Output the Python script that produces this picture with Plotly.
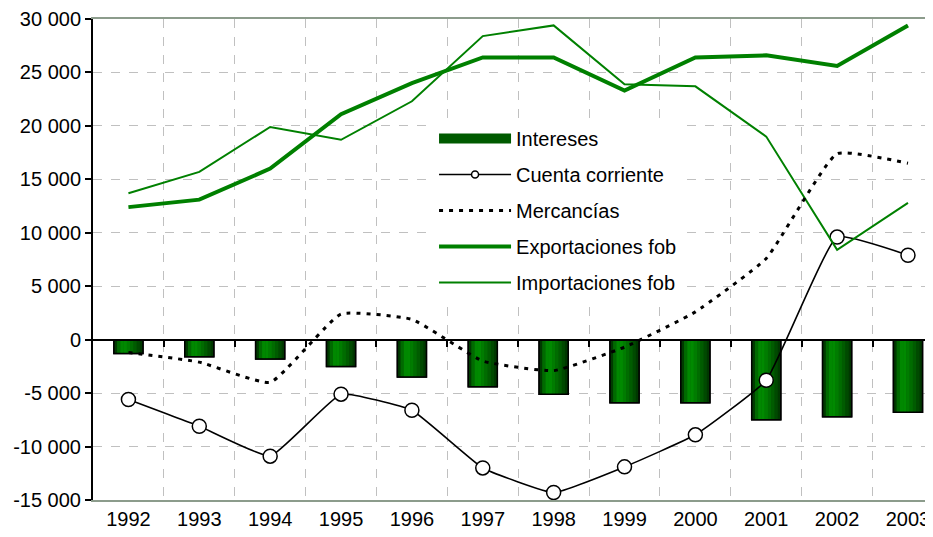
import plotly.graph_objects as go

# values (millions)
years = [1992, 1993, 1994, 1995, 1996, 1997, 1998, 1999, 2000, 2001, 2002, 2003]
intereses = [-1300, -1600, -1800, -2500, -3500, -4400, -5100, -5900, -5900, -7500, -7200, -6800]
cuenta = [-5600, -8100, -10900, -5100, -6600, -12000, -14300, -11900, -8900, -3800, 9600, 7900]
mercancias = [-1200, -2100, -4000, 2400, 1900, -2000, -2900, -700, 2600, 7600, 17400, 16500]
exportaciones = [12400, 13100, 16000, 21100, 24000, 26400, 26400, 23300, 26400, 26600, 25600, 29400]
importaciones = [13700, 15700, 19900, 18700, 22300, 28400, 29400, 23900, 23700, 19000, 8400, 12800]

y_ticks = [-15000, -10000, -5000, 0, 5000, 10000, 15000, 20000, 25000, 30000]
y_labels = ["-15 000", "-10 000", "-5 000", "0", "5 000", "10 000", "15 000", "20 000", "25 000", "30 000"]

font = "Liberation Sans, Arial, sans-serif"
green = "#008000"
bar_w = 0.41
x_range = [1991.5, 2003.353]
bounds = [y + 0.5 for y in years[:-1]]

fig = go.Figure()

# legend-only entry for the bars, styled like the original swatch
fig.add_trace(go.Scatter(x=[None], y=[None], name="Intereses", mode="lines",
                         line=dict(color="#005a00", width=10), legendgroup="a"))

# bars: base, then vertical stripes to fake the gradient, then outline
fig.add_trace(go.Bar(x=years, y=intereses, width=bar_w, name="Intereses",
                     marker=dict(color="#006400", line=dict(color="black", width=1.5)),
                     showlegend=False))
stripe_cols = ["#003a00", "#006a00", "#008800", "#008a00", "#007c00",
               "#006c00", "#005c00", "#004a00", "#003800"]
n = len(stripe_cols)
sw = bar_w / n
for i, c in enumerate(stripe_cols):
    fig.add_trace(go.Bar(x=years, y=intereses, width=sw + 0.002, offset=-bar_w / 2 + i * sw,
                         marker=dict(color=c, line=dict(width=0)),
                         showlegend=False, hoverinfo="skip"))
fig.add_trace(go.Bar(x=years, y=intereses, width=bar_w,
                     marker=dict(color="rgba(0,0,0,0)", line=dict(color="black", width=1.5)),
                     showlegend=False, hoverinfo="skip"))

fig.add_trace(go.Scatter(x=[None], y=[None], name="Cuenta corriente", mode="lines+markers",
                         line=dict(color="black", width=1.6),
                         marker=dict(symbol="circle", size=7, color="white",
                                     line=dict(color="black", width=1.5)),
                         legendgroup="b"))
fig.add_trace(go.Scatter(x=years, y=cuenta, name="Cuenta corriente", mode="lines+markers",
                         line=dict(color="black", width=1.6, shape="spline", smoothing=0.35),
                         marker=dict(symbol="circle", size=14, color="white",
                                     line=dict(color="black", width=1.5)),
                         showlegend=False))
fig.add_trace(go.Scatter(x=years, y=mercancias, name="Mercancías", mode="lines", xaxis="x2",
                         line=dict(color="black", width=3, dash="4px,6px", shape="spline", smoothing=0.4),
                         legendgroup="c"))
fig.add_trace(go.Scatter(x=years, y=exportaciones, name="Exportaciones fob", mode="lines",
                         line=dict(color=green, width=4), legendgroup="d"))
fig.add_trace(go.Scatter(x=years, y=importaciones, name="Importaciones fob", mode="lines",
                         line=dict(color=green, width=2), legendgroup="e"))

# page body has an 8px margin, so the figure is 8px smaller and margins shifted
fig.update_layout(
    width=925, height=529,
    margin=dict(l=85, r=0, t=11, b=37),
    paper_bgcolor="white", plot_bgcolor="white",
    barmode="overlay",
    font=dict(family=font, size=20, color="black"),
    legend=dict(x=0.406, y=0.792, xanchor="left", yanchor="top", bgcolor="white",
                font=dict(size=20), itemwidth=72, tracegroupgap=7, traceorder="grouped"),
    xaxis=dict(range=x_range, tickvals=years, ticktext=[str(y) for y in years],
               showgrid=False, zeroline=False, ticks="", showline=True,
               linecolor="#8c9c8c", linewidth=2, mirror=True,
               minor=dict(tickvals=bounds, showgrid=True,
                          gridcolor="#c0c0c0", griddash="dash", gridwidth=1, ticks="")),
    # category axis crossing at zero, with its small boundary ticks
    xaxis2=dict(overlaying="x", range=x_range, anchor="free", position=15000 / 45000,
                side="bottom", tickmode="array", tickvals=bounds, ticktext=[""] * len(bounds),
                ticks="outside", ticklen=6, tickwidth=2, tickcolor="black",
                showgrid=False, zeroline=False, showline=True, linecolor="black", linewidth=2),
    yaxis=dict(range=[-15000, 30000], tickvals=y_ticks, ticktext=y_labels,
               showgrid=True, gridcolor="#c0c0c0", griddash="dash", gridwidth=1,
               zeroline=True, zerolinecolor="black", zerolinewidth=2,
               showline=True, linecolor="black", linewidth=2,
               ticks="outside", ticklen=6, tickwidth=2, tickcolor="black"),
)

fig.write_html("out.html")
